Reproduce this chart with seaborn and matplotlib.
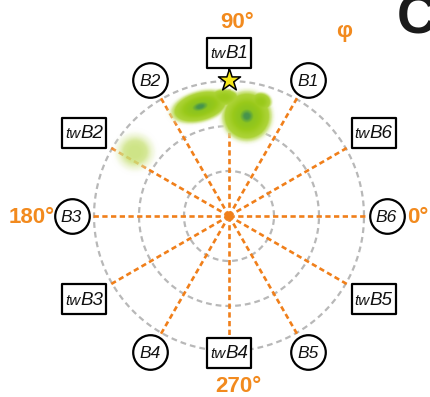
import numpy as np
import pandas as pd
import matplotlib
matplotlib.use("Agg")
import matplotlib.pyplot as plt
import seaborn as sns
from matplotlib.colors import LinearSegmentedColormap
from matplotlib.offsetbox import TextArea, HPacker, AnnotationBbox
from matplotlib.path import Path

sns.set_theme(style="white")
plt.rcParams["font.family"] = ["Liberation Sans", "DejaVu Sans"]

# ---- polar frame -------------------------------------------------------
ring_radii = [1, 2, 3]
spoke_angles = [0, 30, 60, 90, 120, 150, 180, 210, 240, 270, 300, 330]
spoke_length = 3.05

# bond labels (circles) and twisted-bond labels (boxes)
b_names = ["B6", "B1", "B2", "B3", "B4", "B5"]
b_angles = [0, 60, 120, 180, 240, 300]
twb_names = ["B6", "B1", "B2", "B3", "B4", "B5"]
twb_angles = [30, 90, 150, 210, 270, 330]

axis_labels = ["0°", "90°", "180°", "270°"]
axis_angles = [0, 90, 180, 270]

# reference conformation (star)
star_phi = [90]
star_r = [3.02]

# sampled population clusters (cartesian, same units as the rings)
cloud_x = [-0.64, 0.40, -0.11, 0.70, -2.09]
cloud_y = [2.42, 2.21, 2.62, 2.52, 1.42]
cloud_sx = [0.32, 0.27, 0.18, 0.13, 0.27]
cloud_sy = [0.165, 0.27, 0.10, 0.11, 0.26]
cloud_tilt = [15, 0, 0, 0, 0]
cloud_w = [1.0, 1.0, 0.55, 0.6, 0.07]

ORANGE = "#f07f1a"
ORANGE_TXT = "#f28a1e"
GREY = "#b8b8b8"

fig = plt.figure(figsize=(4.3, 3.97), dpi=100)
ax = fig.add_axes([0, 0, 1, 1])
scale = 45.0  # pixels per ring unit
cx, cy = 229, 216
ax.set_xlim(-cx / scale, (430 - cx) / scale)
ax.set_ylim(-(397 - cy) / scale, cy / scale)
ax.set_aspect("equal")
ax.axis("off")

# dashed rings
theta = np.linspace(0, 2 * np.pi, 361)
ring_df = pd.DataFrame(
    [(r, r * np.cos(t), r * np.sin(t)) for r in ring_radii for t in theta],
    columns=["ring", "x", "y"],
)
sns.lineplot(data=ring_df, x="x", y="y", units="ring", estimator=None, sort=False,
             color=GREY, lw=1.6, linestyle=(0, (2.6, 1.8)), ax=ax, zorder=1, legend=False)

# dashed spokes every 30 degrees
spoke_df = pd.DataFrame(
    [(a, r * np.cos(np.radians(a)), r * np.sin(np.radians(a)))
     for a in spoke_angles for r in (0.0, spoke_length)],
    columns=["angle", "x", "y"],
)
sns.lineplot(data=spoke_df, x="x", y="y", units="angle", estimator=None, sort=False,
             color=ORANGE, lw=1.9, linestyle=(0, (2.0, 1.3)), ax=ax, zorder=2, legend=False)

# population density (flat-topped kernels, combined by maximum)
gx = np.linspace(-3.0, 1.6, 470)
gy = np.linspace(0.6, 3.4, 290)
X, Y = np.meshgrid(gx, gy)
dens = np.zeros_like(X)
for x0, y0, sx, sy, tilt, w in zip(cloud_x, cloud_y, cloud_sx, cloud_sy, cloud_tilt, cloud_w):
    c, s = np.cos(np.radians(tilt)), np.sin(np.radians(tilt))
    u = (X - x0) * c + (Y - y0) * s
    v = -(X - x0) * s + (Y - y0) * c
    q = (u / sx) ** 2 + (v / sy) ** 2
    dens = np.maximum(dens, w * np.exp(-(q / 2.0) ** 1.5))
dens = np.clip(dens, 0, 1)
cloud_cmap = LinearSegmentedColormap.from_list("cloud", [
    (0.00, (1.00, 1.00, 1.00, 0.0)),
    (0.015, (0.90, 0.94, 0.76, 0.35)),
    (0.05, (0.80, 0.89, 0.50, 0.80)),
    (0.13, (0.68, 0.83, 0.22, 1.0)),
    (0.60, (0.60, 0.79, 0.10, 1.0)),
    (0.94, (0.55, 0.77, 0.12, 1.0)),
    (0.985, (0.40, 0.67, 0.22, 1.0)),
    (1.00, (0.28, 0.58, 0.30, 1.0)),
])
ax.imshow(dens, extent=(gx[0], gx[-1], gy[0], gy[-1]), origin="lower",
          cmap=cloud_cmap, vmin=0, vmax=1, interpolation="bilinear", zorder=3)

# centre point
sns.scatterplot(x=[0], y=[0], s=36, color=ORANGE, edgecolor="none", ax=ax, zorder=4)

# circled bond labels
b_r = 3.5
bx = [b_r * np.cos(np.radians(a)) for a in b_angles]
by = [b_r * np.sin(np.radians(a)) for a in b_angles]
sns.scatterplot(x=bx, y=by, s=620, color="white", edgecolor="black", linewidth=1.6,
                ax=ax, zorder=5)
for name, x, y in zip(b_names, bx, by):
    ax.text(x, y, name, ha="center", va="center_baseline", fontsize=12.5,
            style="italic", color="#111111", zorder=6)

# boxed twisted-bond labels
twb_r = {30: 3.71, 90: 3.63, 150: 3.71, 210: 3.71, 270: 3.04, 330: 3.71}
tx = [twb_r[a] * np.cos(np.radians(a)) for a in twb_angles]
ty = [twb_r[a] * np.sin(np.radians(a)) for a in twb_angles]
box_marker = Path([(-1, -0.68), (1, -0.68), (1, 0.68), (-1, 0.68), (-1, -0.68)],
                  [Path.MOVETO, Path.LINETO, Path.LINETO, Path.LINETO, Path.CLOSEPOLY])
sns.scatterplot(x=tx, y=ty, marker=box_marker, s=1000, color="white", edgecolor="black",
                linewidth=1.6, ax=ax, zorder=5)
for name, x, y in zip(twb_names, tx, ty):
    pack = HPacker(children=[
        TextArea("tw", textprops=dict(fontsize=11, style="italic", color="#111111")),
        TextArea(name, textprops=dict(fontsize=13.5, style="italic", color="#111111")),
    ], align="baseline", pad=0, sep=0)
    ax.add_artist(AnnotationBbox(pack, (x, y - 0.02), frameon=False, pad=0,
                                 box_alignment=(0.5, 0.5), zorder=6))

# stem from the top box to the reference star
ax.plot([0, 0], [3.3, 3.1], color="black", lw=1.4, zorder=6)
sx_ = [r * np.cos(np.radians(p)) for p, r in zip(star_phi, star_r)]
sy_ = [r * np.sin(np.radians(p)) for p, r in zip(star_phi, star_r)]
sns.scatterplot(x=sx_, y=sy_, marker="*", s=280, color="#f5e61a", edgecolor="black",
                linewidth=1.1, ax=ax, zorder=7)

# angle labels
label_pos = {0: (3.96, -0.16, "left"), 90: (0.18, 4.18, "center"),
             180: (-3.87, -0.16, "right"), 270: (0.2, -3.92, "center")}
for text, a in zip(axis_labels, axis_angles):
    x, y, ha = label_pos[a]
    ax.text(x, y, text, ha=ha, va="baseline", fontsize=16, fontweight="bold",
            color=ORANGE_TXT, zorder=6)

fig.text(344 / 430, 1 - 32 / 397, "φ", ha="center", va="center", fontsize=16,
         fontweight="bold", color=ORANGE_TXT)
fig.text(397 / 430, 1 - 33 / 397, "C", ha="left", va="baseline", fontsize=40,
         fontweight="bold", color="#1a1a1a")

fig.savefig("out.png", dpi=100, facecolor="white")
